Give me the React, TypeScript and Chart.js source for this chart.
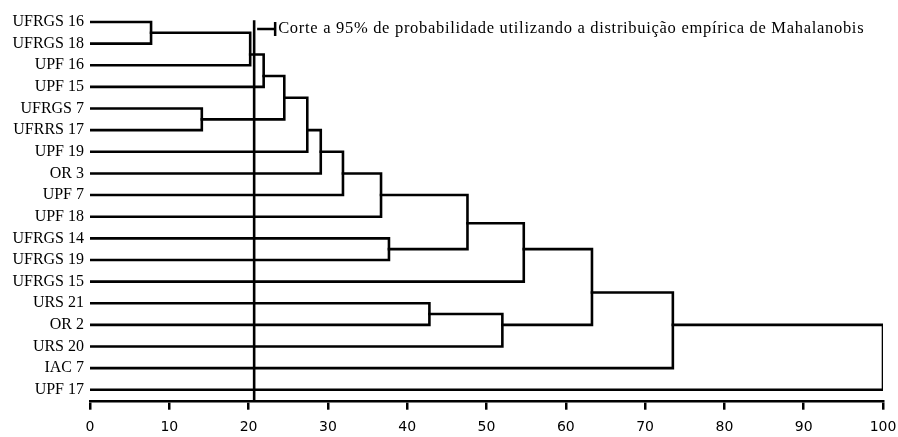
import React, { useEffect, useRef } from "react";
import { Chart, registerables } from "chart.js";

Chart.register(...registerables);

// Leaves, top to bottom
const leafNames = [
  "UFRGS 16", "UFRGS 18", "UPF 16", "UPF 15", "UFRGS 7", "UFRRS 17",
  "UPF 19", "OR 3", "UPF 7", "UPF 18", "UFRGS 14", "UFRGS 19",
  "UFRGS 15", "URS 21", "OR 2", "URS 20", "IAC 7", "UPF 17",
];

// Merges: children ("L#" = leaf, "N#" = earlier merge), linkage distance, row of the joining line
const mergeLeft = ["L0", "N0", "N1", "L4", "N2", "N4", "N5", "N6", "N7", "L10", "N8", "N10", "L13", "N12", "N11", "N14", "N15"];
const mergeRight = ["L1", "L2", "L3", "L5", "N3", "L6", "L7", "L8", "L9", "L11", "N9", "L12", "L14", "L15", "N13", "L16", "L17"];
const mergeHeight = [7.7, 20.2, 21.9, 14.1, 24.5, 27.4, 29.1, 31.9, 36.7, 37.7, 47.6, 54.7, 42.8, 52.0, 63.3, 73.5, 100];
const mergeRow = [0.5, 1.5, 2.5, 4.5, 3.5, 5, 6, 7, 8, 10.5, 9.3, 10.5, 13.5, 14, 12.5, 14, 15.5];

const xTickValues = [0, 10, 20, 30, 40, 50, 60, 70, 80, 90, 100];
const cutValue = 20.7;
const cutLabel = "Corte a 95% de probabilidade utilizando a distribuição empírica de Mahalanobis";

function nodePos(id: string) {
  const k = parseInt(id.slice(1), 10);
  if (id[0] === "L") return { h: 0, r: k };
  return { h: mergeHeight[k], r: mergeRow[k] };
}

const cutPlugin = {
  id: "cutLabel",
  afterDatasetsDraw(chart: any) {
    const ctx = chart.ctx;
    const xs = chart.scales.x;
    const ys = chart.scales.y;
    const cx = xs.getPixelForValue(cutValue);
    const y = ys.getPixelForValue(0.33);
    ctx.save();
    ctx.strokeStyle = "#000";
    ctx.lineWidth = 2.5;
    ctx.beginPath();
    ctx.moveTo(cx + 3, y);
    ctx.lineTo(cx + 21, y);
    ctx.moveTo(cx + 21, y - 7);
    ctx.lineTo(cx + 21, y + 7);
    ctx.stroke();
    ctx.font = '16.5px "Liberation Serif"';
    try {
      (ctx as any).letterSpacing = "0.7px";
    } catch (e) {}
    ctx.textBaseline = "middle";
    ctx.textAlign = "left";
    ctx.fillStyle = "#000";
    ctx.fillText(cutLabel, cx + 24, y);
    ctx.restore();
  },
};

export default function App() {
  const canvasRef = useRef<HTMLCanvasElement | null>(null);

  useEffect(() => {
    document.body.style.margin = "0";
    const canvas = canvasRef.current;
    if (!canvas) return;

    const lineStyle = {
      borderColor: "#000",
      borderWidth: 2.6,
      pointRadius: 0,
      tension: 0,
      fill: false,
      borderJoinStyle: "miter" as const,
      borderCapStyle: "square" as const,
    };

    const datasets: any[] = mergeHeight.map((h, k) => {
      const a = nodePos(mergeLeft[k]);
      const b = nodePos(mergeRight[k]);
      return {
        ...lineStyle,
        data: [
          { x: a.h, y: a.r },
          { x: h, y: a.r },
          { x: h, y: b.r },
          { x: b.h, y: b.r },
        ],
      };
    });
    datasets.push({
      ...lineStyle,
      borderCapStyle: "butt",
      data: [
        { x: cutValue, y: -0.08 },
        { x: cutValue, y: 17.6 },
      ],
    });

    const chart = new Chart(canvas, {
      type: "line",
      data: { datasets },
      plugins: [cutPlugin],
      options: {
        animation: false,
        responsive: true,
        maintainAspectRatio: false,
        layout: { padding: { top: 9, right: 15, left: 0, bottom: 0 } },
        plugins: { legend: { display: false }, tooltip: { enabled: false } },
        scales: {
          x: {
            type: "linear",
            position: "bottom",
            min: 0,
            max: 100,
            afterBuildTicks: (s: any) => {
              s.ticks = xTickValues.map((v) => ({ value: v }));
            },
            afterFit: (s: any) => {
              s.height = 35.3;
              s.paddingLeft = 0;
              s.paddingRight = 0;
            },
            ticks: {
              color: "#000",
              font: { family: "DejaVu Sans", size: 14 },
              padding: 9,
              maxRotation: 0,
            },
            grid: {
              drawOnChartArea: false,
              drawTicks: true,
              tickLength: 8,
              color: "#000",
              lineWidth: 2.5,
            },
            border: { display: true, color: "#000", width: 2.6 },
          },
          y: {
            type: "linear",
            reverse: true,
            min: -0.6,
            max: 17.55,
            afterBuildTicks: (s: any) => {
              s.ticks = leafNames.map((_, i) => ({ value: i }));
            },
            afterFit: (s: any) => {
              s.width = 90;
              s.paddingTop = 0;
              s.paddingBottom = 0;
            },
            ticks: {
              color: "#000",
              font: { family: "Liberation Serif", size: 16 },
              padding: 6,
              autoSkip: false,
              callback: (v: any) => leafNames[Number(v)] ?? "",
            },
            grid: { display: false, drawTicks: false },
            border: { display: false },
          },
        },
      },
    });

    return () => chart.destroy();
  }, []);

  return (
    <div style={{ position: "relative", width: 898, height: 437 }}>
      <canvas ref={canvasRef} />
    </div>
  );
}
